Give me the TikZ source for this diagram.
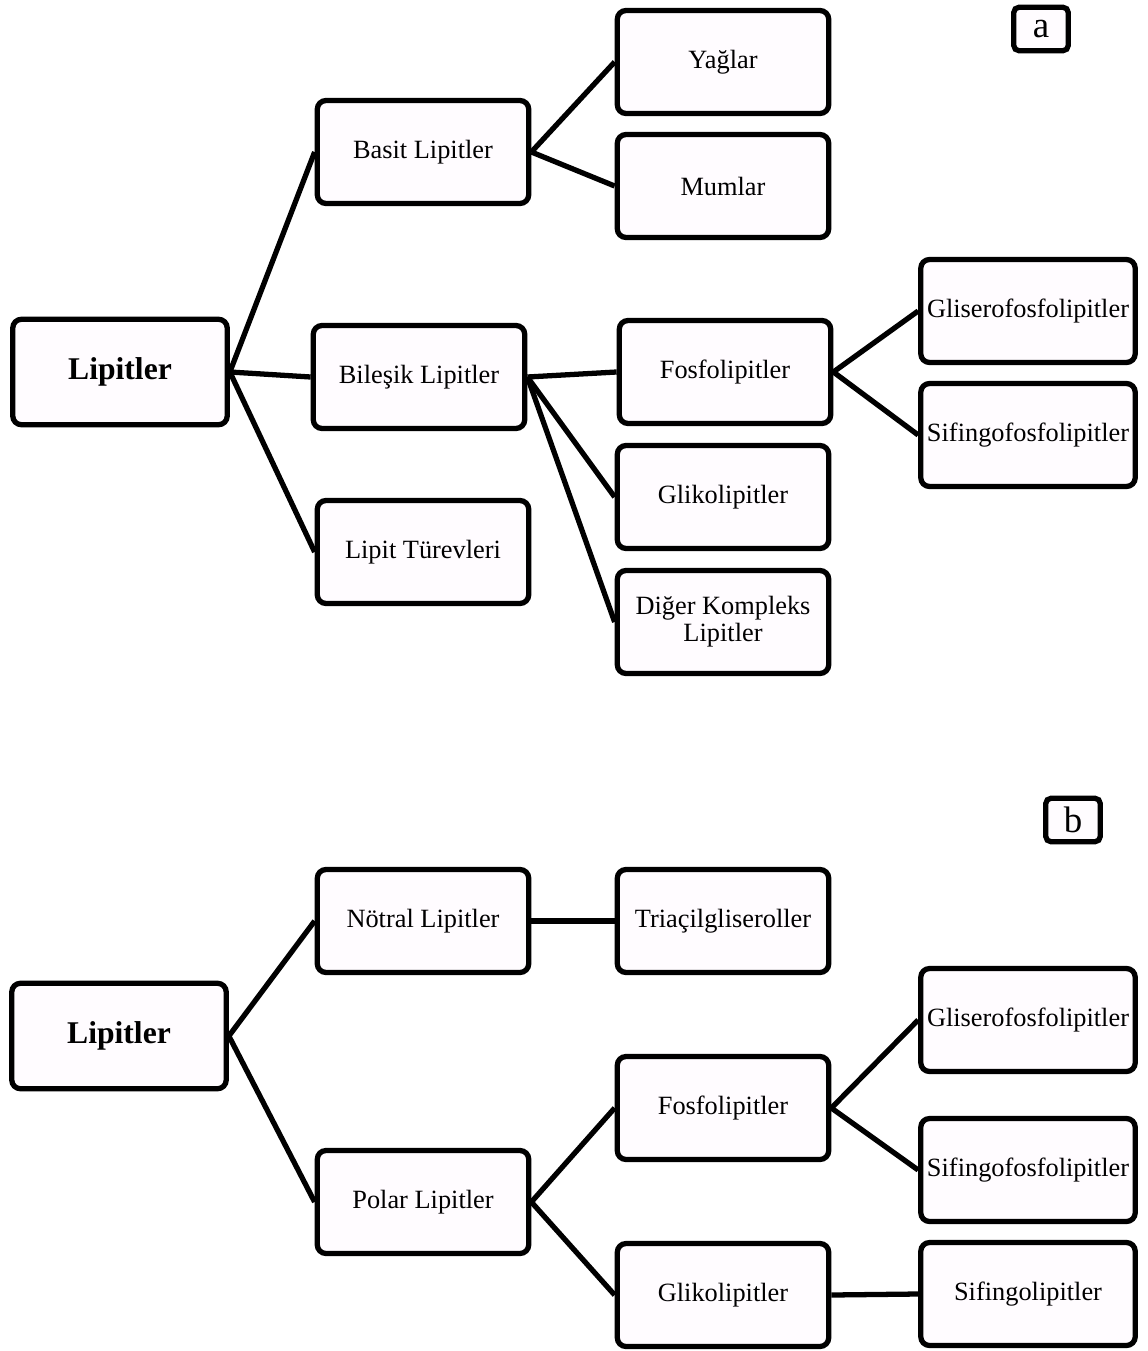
\documentclass[tikz,border=0pt]{standalone}
\usepackage{fontspec}
\setmainfont{Liberation Serif}
\definecolor{boxfill}{RGB}{255,252,255}

\begin{document}
\begin{tikzpicture}[x=0.02cm,y=-0.02cm,
  box/.style={draw,line width=3pt,rounded corners=5pt,fill=boxfill,inner sep=0pt,
    minimum width=4.23cm,minimum height=2.06cm,align=center,font=\fontsize{15}{15.5}\selectfont},
  widebox/.style={box,minimum width=4.29cm},
  rootbox/.style={box,minimum width=4.29cm,minimum height=2.11cm,font=\fontsize{18}{20}\bfseries},
  tag/.style={draw,line width=3pt,rounded corners=3pt,fill=boxfill,inner sep=0pt,
    minimum width=1.09cm,minimum height=0.87cm,font=\fontsize{21}{22}\selectfont},
  link/.style={line width=3pt}]
  \useasboundingbox (0,0) rectangle (1147,1351);

  % a
  \node[tag] (tagA) at (1041,29) {a};
  \node[rootbox] (lipA) at (120,372) {Lipitler};
  \node[box] (basit) at (423,152) {Basit Lipitler};
  \node[box] (bilesik) at (419,377) {Bileşik Lipitler};
  \node[box] (turev) at (423,552) {Lipit Türevleri};
  \node[box] (yaglar) at (723,62) {Yağlar};
  \node[box] (mumlar) at (723,186) {Mumlar};
  \node[box] (fosfoA) at (725,372) {Fosfolipitler};
  \node[box] (glikoA) at (723,497) {Glikolipitler};
  \node[box] (diger) at (723,622) {Diğer Kompleks\\Lipitler};
  \node[widebox] (gliseroA) at (1028,311) {Gliserofosfolipitler};
  \node[widebox] (sifingoA) at (1028,435) {Sifingofosfolipitler};

  \draw[link] (lipA.east)--(basit.west);
  \draw[link] (lipA.east)--(bilesik.west);
  \draw[link] (lipA.east)--(turev.west);
  \draw[link] (basit.east)--(yaglar.west);
  \draw[link] (basit.east)--(mumlar.west);
  \draw[link] (bilesik.east)--(fosfoA.west);
  \draw[link] (bilesik.east)--(glikoA.west);
  \draw[link] (bilesik.east)--(diger.west);
  \draw[link] (fosfoA.east)--(gliseroA.west);
  \draw[link] (fosfoA.east)--(sifingoA.west);

  % b
  \node[tag] (tagB) at (1073,820) {b};
  \node[rootbox] (lipB) at (119,1036) {Lipitler};
  \node[box] (notral) at (423,921) {Nötral Lipitler};
  \node[box] (polar) at (423,1202) {Polar Lipitler};
  \node[box] (triacil) at (723,921) {Triaçilgliseroller};
  \node[box] (fosfoB) at (723,1108) {Fosfolipitler};
  \node[box] (glikoB) at (723,1295) {Glikolipitler};
  \node[widebox] (gliseroB) at (1028,1020) {Gliserofosfolipitler};
  \node[widebox] (sifingoB) at (1028,1170) {Sifingofosfolipitler};
  \node[widebox] (sfingo) at (1028,1294) {Sifingolipitler};

  \draw[link] (lipB.east)--(notral.west);
  \draw[link] (lipB.east)--(polar.west);
  \draw[link] (notral.east)--(triacil.west);
  \draw[link] (polar.east)--(fosfoB.west);
  \draw[link] (polar.east)--(glikoB.west);
  \draw[link] (fosfoB.east)--(gliseroB.west);
  \draw[link] (fosfoB.east)--(sifingoB.west);
  \draw[link] (glikoB.east)--(sfingo.west);
\end{tikzpicture}
\end{document}
